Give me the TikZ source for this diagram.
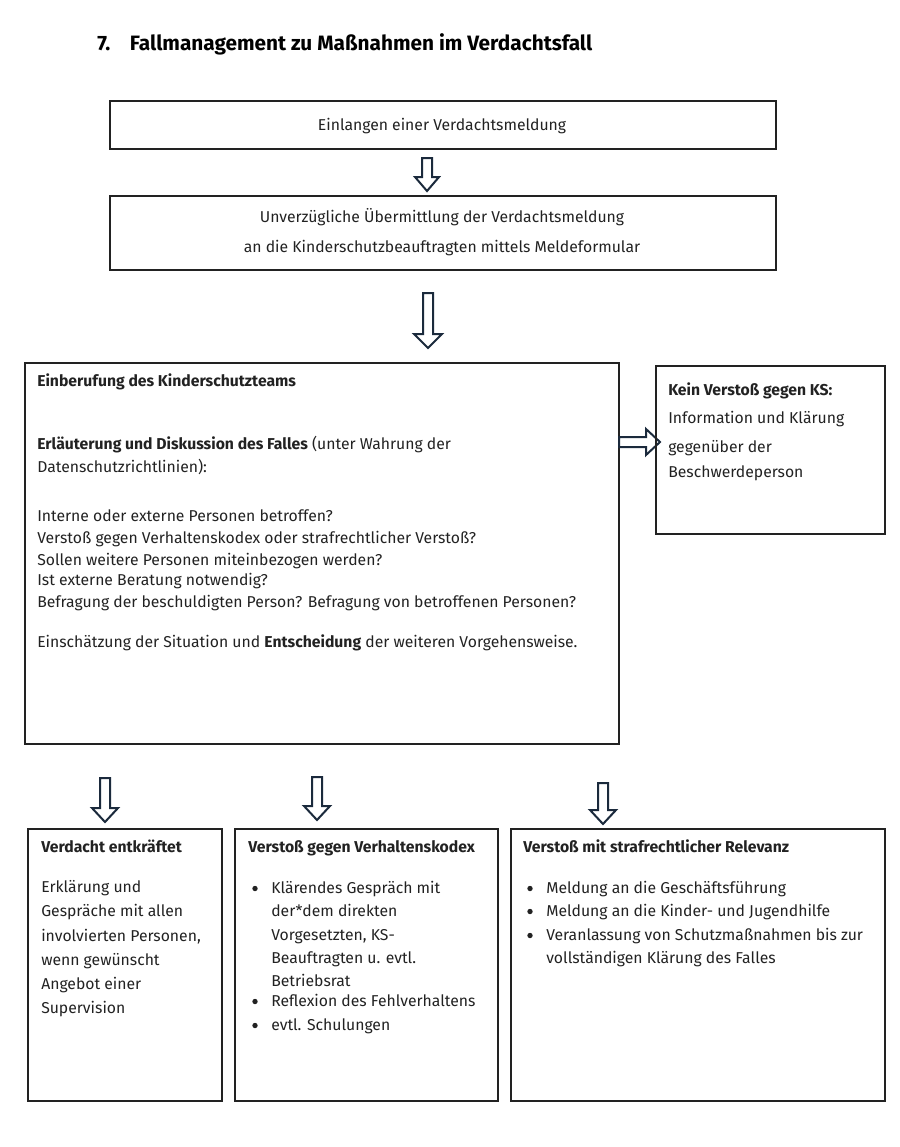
\documentclass[tikz,border=0pt]{standalone}
\usepackage{fontspec}
\setmainfont{Fira Sans}
\definecolor{navy}{HTML}{1B2A3C}
\definecolor{ink}{HTML}{222222}
\tikzset{
  box/.style={draw=ink, line width=0.9pt},
  txt/.style={anchor=base west, inner sep=0pt, text=ink, font=\fontsize{11.8}{14}\selectfont},
  ctxt/.style={anchor=base, inner sep=0pt, text=ink, font=\fontsize{11.8}{14}\selectfont},
  harrow/.style={draw=navy, line width=1.5pt, fill=white, line join=miter},
  bul/.style={fill=ink},
}
\newcommand\darrow[4]{% x, ytop, ybottom, head half width
  \draw[harrow] (#1-5,#2) -- (#1+5,#2) -- (#1+5,#3-14) -- (#1+#4,#3-14) -- (#1,#3) -- (#1-#4,#3-14) -- (#1-5,#3-14) -- cycle;}
% lines: x, name, list of y/text
\newcommand\textlines[3]{%
  \foreach \yy/\tt [count=\i] in {#3} \node[txt] (#2-\i) at (#1,\yy) {\tt};}
\newcommand\bullets[2]{%
  \foreach \yy in {#2} \fill[bul] (#1,\yy-4.5) circle (2.7);}
\begin{document}
\begin{tikzpicture}[x=0.75pt,y=-0.75pt]
\useasboundingbox (0,0) rectangle (900,1147);
% title
\node[anchor=base west, inner sep=0pt, font=\fontsize{15.6}{18}\selectfont\bfseries, text=black] (title) at (97,50) {7.\hspace{0.95em}Fallmanagement zu Maßnahmen im Verdachtsfall};
% box 1
\draw[box] (110,101) rectangle (776,149);
\node[ctxt] (t1) at (442,130) {Einlangen einer Verdachtsmeldung};
\darrow{427}{158}{191}{12}
% box 2
\draw[box] (110,196) rectangle (776,270);
\node[ctxt] (t2a) at (442,222) {Unverzügliche Übermittlung der Verdachtsmeldung};
\node[ctxt] (t2b) at (442,252) {an die Kinderschutzbeauftragten mittels Meldeformular};
\darrow{428}{293}{348}{14}
% big box
\draw[box] (25,363) rectangle (619,744);
\node[txt] (b1) at (37,386) {\bfseries Einberufung des Kinderschutzteams};
\textlines{37}{b2}{449/{\textbf{Erläuterung und Diskussion des Falles} (unter Wahrung der},
  472/{Datenschutzrichtlinien):}}
\textlines{37}{b3}{521/{Interne oder externe Personen betroffen?},
  543/{Verstoß gegen Verhaltenskodex oder strafrechtlicher Verstoß?},
  565/{Sollen weitere Personen miteinbezogen werden?},
  585/{Ist externe Beratung notwendig?},
  607/{Befragung der beschuldigten Person? Befragung von betroffenen Personen?}}
\node[txt] (b4) at (37,647) {Einschätzung der Situation und \textbf{Entscheidung} der weiteren Vorgehensweise.};
% right arrow
\draw[harrow] (619,437) -- (646,437) -- (646,429) -- (660,442) -- (646,455) -- (646,447) -- (619,447) -- cycle;
% right box
\draw[box] (656,366) rectangle (885,534);
\node[txt] (r1) at (668,395) {\bfseries Kein Verstoß gegen KS:};
\textlines{668}{r2}{423/{Information und Klärung},452/{gegenüber der},477/{Beschwerdeperson}}
% bottom arrows
\darrow{105}{778}{822}{13}
\darrow{317}{777}{820}{13}
\darrow{603}{783}{824}{13}
% bottom boxes
\draw[box] (28,829) rectangle (222,1101);
\draw[box] (235,829) rectangle (498,1101);
\draw[box] (511,829) rectangle (885,1101);
\node[txt] (a1) at (41,852) {\bfseries Verdacht entkräftet};
\textlines{41}{a2}{892/{Erklärung und},916/{Gespräche mit allen},941/{involvierten Personen,},965/{wenn gewünscht},989/{Angebot einer},1013/{Supervision}}
\node[txt] (c1) at (248,852) {\bfseries Verstoß gegen Verhaltenskodex};
\textlines{271}{c2}{893/{Klärendes Gespräch mit},916/{der*dem direkten},940/{Vorgesetzten, KS-},963/{Beauftragten u. evtl.},986/{Betriebsrat},1006/{Reflexion des Fehlverhaltens},1030/{evtl. Schulungen}}
\bullets{255}{893,1006,1030}
\node[txt] (d1) at (523,852) {\bfseries Verstoß mit strafrechtlicher Relevanz};
\textlines{546}{d2}{893/{Meldung an die Geschäftsführung},916/{Meldung an die Kinder- und Jugendhilfe},940/{Veranlassung von Schutzmaßnahmen bis zur},963/{vollständigen Klärung des Falles}}
\bullets{530}{893,916,940}
\end{tikzpicture}
\end{document}
